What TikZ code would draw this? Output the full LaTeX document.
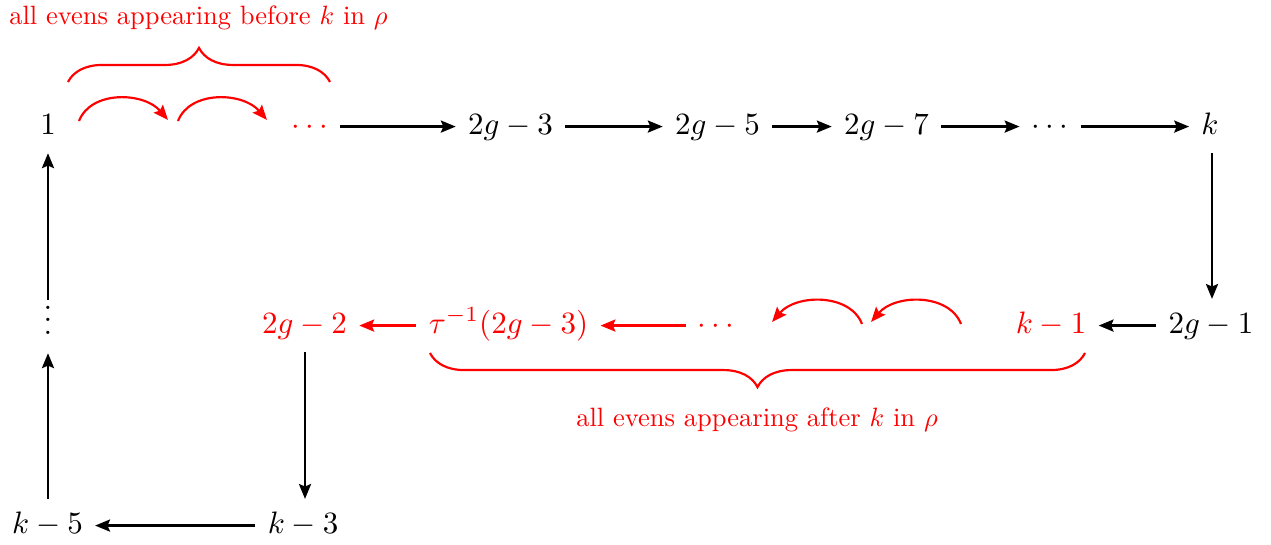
\documentclass[tikz,border=0pt]{standalone}
\usepackage{graphicx}
\usetikzlibrary{arrows.meta,decorations.pathreplacing}
\begin{document}
\begin{tikzpicture}[x=0.3226pt,y=-0.3226pt,
  lbl/.style={anchor=base,inner sep=3.8pt,text height=7pt,text depth=2.2pt},
  redlbl/.style={lbl,text=red},
  arr/.style={-{Stealth[length=4.8pt,width=3.9pt,inset=0.8pt]},line width=0.7pt},
  redarr/.style={arr,draw=red},
  bracestyle/.style={draw=red,line width=0.7pt,decorate,decoration={brace,amplitude=11pt}},
  note/.style={anchor=base,text=red,inner sep=0pt}
]
\useasboundingbox (0,0) rectangle (1271,544);

% row 1
\node[lbl] (n1) at (48,134) {$1$};
\node[redlbl] (rd1) at (310,134) {$\cdots$};
\node[lbl] (a3) at (510.5,134) {$2g-3$};
\node[lbl] (a5) at (717.5,134) {$2g-5$};
\node[lbl] (a7) at (886.5,134) {$2g-7$};
\node[lbl] (d1) at (1050,134) {$\cdots$};
\node[lbl] (kk) at (1210,134) {$k$};

% row 2
\node[lbl] (vd) at (48,334) {$\vdots$};
\node[redlbl] (b2) at (304.5,333) {$2g-2$};
\node[redlbl] (tau) at (508.5,333) {$\tau^{-1}(2g-3)$};
\node[redlbl] (d2) at (716,333) {$\cdots$};
\node[redlbl] (km1) at (1051,333) {$k-1$};
\node[lbl] (g1) at (1211,333) {$2g-1$};

% row 3
\node[lbl] (k5) at (47.5,533) {$k-5$};
\node[lbl] (k3) at (303,533) {$k-3$};

% black arrows
\draw[arr] (rd1) -- (a3);
\draw[arr] (a3) -- (a5);
\draw[arr] (a5) -- (a7);
\draw[arr] (a7) -- (d1);
\draw[arr] (d1) -- (kk);
\draw[arr] (kk.south -| 1212,0) -- (g1.north -| 1212,0);
\draw[arr] (g1) -- (km1);
\draw[arr] (b2.south -| 305,0) -- (k3.north -| 305,0);
\draw[arr] (k3) -- (k5);
\draw[arr] (k5.north -| vd.center) -- (vd.south);
\draw[arr] (vd) -- (n1);

% red straight arrows
\draw[redarr] (d2) -- (tau);
\draw[redarr] (tau) -- (b2);

% red curved arrows
\coordinate (p1a) at (79,121);
\coordinate (p1b) at (168,120);
\coordinate (p2a) at (178,121);
\coordinate (p2b) at (267,120);
\coordinate (q1a) at (961,324);
\coordinate (q1b) at (871,322);
\coordinate (q2a) at (862,324);
\coordinate (q2b) at (772,322);
\draw[redarr] (p1a) .. controls +(12,-31) and +(-24,-28) .. (p1b);
\draw[redarr] (p2a) .. controls +(12,-31) and +(-24,-28) .. (p2b);
\draw[redarr] (q1a) .. controls +(-12,-31) and +(24,-28) .. (q1b);
\draw[redarr] (q2a) .. controls +(-12,-31) and +(24,-28) .. (q2b);

% braces
\coordinate (bt1) at (68,82);
\coordinate (bt2) at (330,82);
\coordinate (bb1) at (1085,353);
\coordinate (bb2) at (430,353);
\draw[bracestyle] (bt1) -- (bt2);
\draw[bracestyle] (bb1) -- (bb2);
\node[note] (tl) at (198.5,24.5) {\scalebox{0.855}{all evens appearing before $k$ in $\rho$}};
\node[note] (bl) at (757,426) {\scalebox{0.855}{all evens appearing after $k$ in $\rho$}};
\end{tikzpicture}
\end{document}
